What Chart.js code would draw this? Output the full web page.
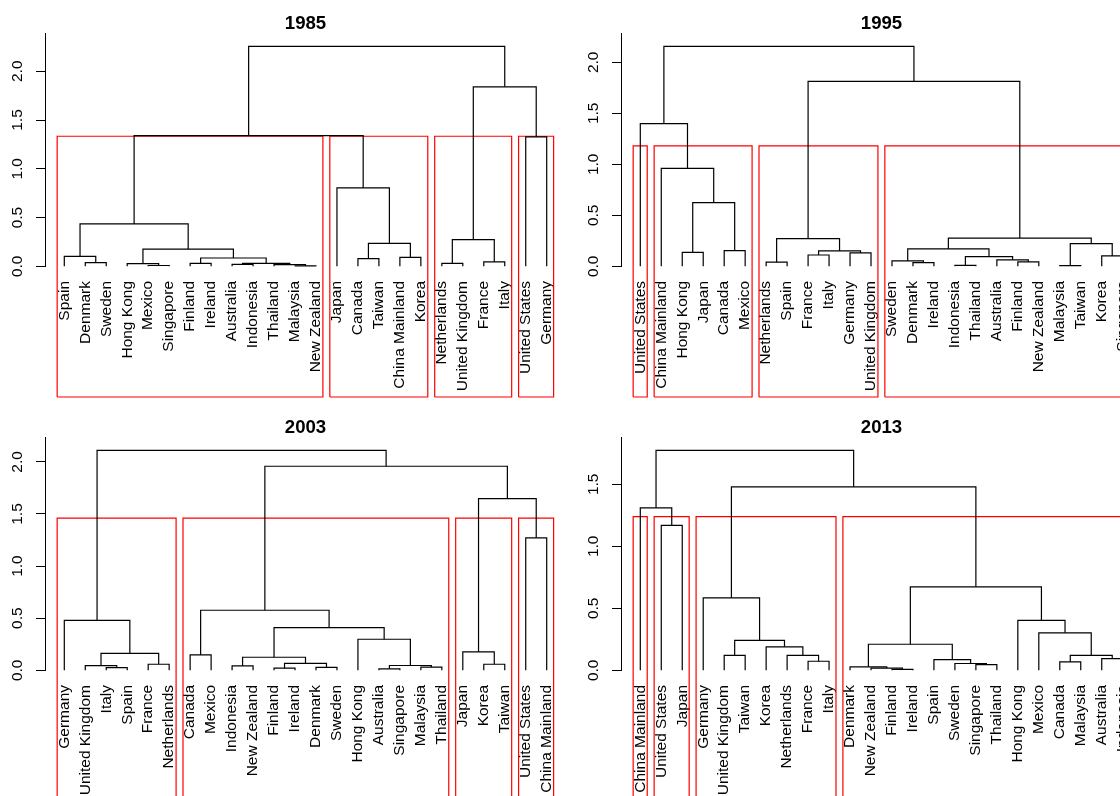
<!DOCTYPE html>
<html>
<head>
<meta charset="utf-8">
<title>Dendrograms 1985 - 2013</title>
<script src="https://cdn.jsdelivr.net/npm/chart.js"></script>
<style>
  html, body { margin: 0; padding: 0; background: #fff; overflow: hidden; width: 1120px; height: 796px; }
  canvas { position: absolute; }
</style>
</head>
<body>
<canvas id="c1985" width="576" height="404" style="left:0px;top:0px"></canvas>
<canvas id="c1995" width="576" height="404" style="left:576px;top:0px"></canvas>
<canvas id="c2003" width="576" height="404" style="left:0px;top:404px"></canvas>
<canvas id="c2013" width="576" height="404" style="left:576px;top:404px"></canvas>
<script>
// leaf order as printed under each tree
let leaves1985 = ["Spain", "Denmark", "Sweden", "Hong Kong", "Mexico", "Singapore", "Finland", "Ireland",
  "Australia", "Indonesia", "Thailand", "Malaysia", "New Zealand", "Japan", "Canada", "Taiwan",
  "China Mainland", "Korea", "Netherlands", "United Kingdom", "France", "Italy", "United States", "Germany"]
let leaves1995 = ["United States", "China Mainland", "Hong Kong", "Japan", "Canada", "Mexico", "Netherlands", "Spain",
  "France", "Italy", "Germany", "United Kingdom", "Sweden", "Denmark", "Ireland", "Indonesia",
  "Thailand", "Australia", "Finland", "New Zealand", "Malaysia", "Taiwan", "Korea", "Singapore"]
let leaves2003 = ["Germany", "United Kingdom", "Italy", "Spain", "France", "Netherlands", "Canada", "Mexico",
  "Indonesia", "New Zealand", "Finland", "Ireland", "Denmark", "Sweden", "Hong Kong", "Australia",
  "Singapore", "Malaysia", "Thailand", "Japan", "Korea", "Taiwan", "United States", "China Mainland"]
let leaves2013 = ["China Mainland", "United States", "Japan", "Germany", "United Kingdom", "Taiwan", "Korea", "Netherlands",
  "France", "Italy", "Denmark", "New Zealand", "Finland", "Ireland", "Spain", "Sweden",
  "Singapore", "Thailand", "Hong Kong", "Mexico", "Canada", "Malaysia", "Australia", "Indonesia"]

// merges: [left, right, height]; a string is a leaf, a number is an earlier merge row
let merges1985 = [
  ["Malaysia", "New Zealand", 0.004], ["Mexico", "Singapore", 0.008], ["Thailand", 0, 0.017],
  ["Australia", "Indonesia", 0.02], ["Hong Kong", 1, 0.027], ["Finland", "Ireland", 0.031],
  [3, 2, 0.031], ["Denmark", "Sweden", 0.038], ["Netherlands", "United Kingdom", 0.031],
  ["France", "Italy", 0.045], ["Canada", "Taiwan", 0.079], [5, 6, 0.085],
  ["China Mainland", "Korea", 0.092], ["Spain", 7, 0.102], [4, 11, 0.176],
  [10, 12, 0.236], [8, 9, 0.274], [13, 14, 0.435],
  ["Japan", 15, 0.804], ["United States", "Germany", 1.327], [17, 18, 1.34],
  [16, 19, 1.84], [20, 21, 2.256]
]
let merges1995 = [
  ["Malaysia", "Taiwan", 0.006], ["Indonesia", "Thailand", 0.01], ["Denmark", "Ireland", 0.036],
  ["Netherlands", "Spain", 0.04], ["Finland", "New Zealand", 0.043], ["Sweden", 2, 0.053],
  ["Australia", 4, 0.063], [1, 6, 0.095], ["Korea", "Singapore", 0.102],
  ["France", "Italy", 0.111], ["Germany", "United Kingdom", 0.131], ["Hong Kong", "Japan", 0.137],
  [9, 10, 0.151], ["Canada", "Mexico", 0.154], [5, 7, 0.17],
  [0, 8, 0.222], [3, 12, 0.272], [14, 15, 0.277],
  [11, 13, 0.625], ["China Mainland", 18, 0.961], ["United States", 19, 1.399],
  [16, 17, 1.814], [20, 21, 2.157]
]
let merges2003 = [
  ["Australia", "Singapore", 0.014], ["Finland", "Ireland", 0.02], ["Italy", "Spain", 0.026],
  ["Denmark", "Sweden", 0.029], ["Malaysia", "Thailand", 0.03], ["Indonesia", "New Zealand", 0.042],
  ["United Kingdom", 2, 0.045], [0, 4, 0.046], ["France", "Netherlands", 0.058],
  ["Korea", "Taiwan", 0.058], [1, 3, 0.067], [5, 10, 0.125],
  ["Canada", "Mexico", 0.148], [6, 8, 0.162], ["Japan", 9, 0.176],
  ["Hong Kong", 7, 0.298], [11, 15, 0.41], ["Germany", 13, 0.48],
  [12, 16, 0.576], ["United States", "China Mainland", 1.271], [14, 19, 1.648],
  [18, 20, 1.958], [17, 21, 2.111]
]
let merges2013 = [
  ["Finland", "Ireland", 0.008], ["New Zealand", 0, 0.017], ["Denmark", 1, 0.028],
  ["Singapore", "Thailand", 0.046], ["Sweden", 3, 0.055], ["Canada", "Malaysia", 0.068],
  ["France", "Italy", 0.073], ["Spain", 4, 0.086], ["Australia", "Indonesia", 0.094],
  ["United Kingdom", "Taiwan", 0.121], ["Netherlands", 6, 0.121], [5, 8, 0.121],
  ["Korea", 10, 0.189], [2, 7, 0.21], [9, 12, 0.242],
  ["Mexico", 11, 0.302], ["Hong Kong", 15, 0.403], ["Germany", 14, 0.584],
  [13, 16, 0.673], ["United States", "Japan", 1.169], ["China Mainland", 19, 1.31],
  [17, 18, 1.479], [20, 21, 1.774]
]

let yTicks = [0, 0.5, 1, 1.5, 2]
let clusterCount = 4

let fontFamily = "'Liberation Sans', Arial, Helvetica, sans-serif"

function drawTree(canvasId, title, leaves, merges) {
  let n = leaves.length
  let nodes = []

  function info(ref) {
    if (typeof ref === 'string') {
      let p = leaves.indexOf(ref) + 1
      return { x: p, h: 0, first: p, last: p, ref: ref }
    }
    return nodes[ref]
  }

  let datasets = []
  merges.forEach(function (m, i) {
    let l = info(m[0])
    let r = info(m[1])
    nodes.push({ x: (l.x + r.x) / 2, h: m[2], first: Math.min(l.first, r.first), last: Math.max(l.last, r.last), kids: [m[0], m[1]] })
    datasets.push({
      data: [{ x: l.x, y: l.h }, { x: l.x, y: m[2] }, { x: r.x, y: m[2] }, { x: r.x, y: r.h }],
      borderColor: '#000',
      borderWidth: 1.2
    })
  })

  let top = merges[merges.length - 1][2]
  // plot region: top merge 220px above zero, region ends 13.3px above it and 130.7px below zero
  let yMax = top * 233.3 / 220
  let rectBottom = -top * 130.7 / 220

  // cut for the rectangles, like rect.hclust
  let hs = merges.map(m => m[2]).sort((a, b) => b - a)
  let cut = (hs[clusterCount - 2] + hs[clusterCount - 1]) / 2
  let clusters = []
  function walk(ref) {
    let nd = info(ref)
    if (nd.h > cut) { walk(nd.kids[0]); walk(nd.kids[1]) }
    else clusters.push(nd)
  }
  walk(merges.length - 1)
  clusters.forEach(function (c) {
    let x1 = c.first - 0.34
    let x2 = c.last + 0.33
    datasets.push({
      data: [{ x: x1, y: rectBottom }, { x: x1, y: cut }, { x: x2, y: cut }, { x: x2, y: rectBottom }, { x: x1, y: rectBottom }],
      borderColor: '#ff0000',
      borderWidth: 1.2
    })
  })

  datasets.forEach(function (d) {
    d.showLine = true
    d.pointRadius = 0
    d.fill = false
    d.tension = 0
    d.clip = false
  })

  new Chart(document.getElementById(canvasId), {
    type: 'scatter',
    data: { datasets: datasets },
    options: {
      responsive: false,
      animation: false,
      events: [],
      layout: { padding: { left: 0, right: 10, top: 0, bottom: 0 } },
      plugins: {
        legend: { display: false },
        tooltip: { enabled: false },
        title: {
          display: true,
          text: title,
          fullSize: false,
          color: '#000',
          font: { family: fontFamily, size: 18.6, weight: 'bold', lineHeight: 1 },
          padding: { top: 14.4, bottom: 0 }
        }
      },
      scales: {
        x: {
          type: 'linear',
          min: 0.08,
          max: n + 0.92,
          grid: { display: false, drawTicks: false },
          border: { display: false },
          afterBuildTicks: function (s) { s.ticks = leaves.map((_, i) => ({ value: i + 1 })) },
          afterFit: function (s) {
            s.height = 137.7
            s.paddingLeft = 0
            s.paddingRight = 0
          },
          ticks: {
            autoSkip: false,
            minRotation: 90,
            maxRotation: 90,
            padding: 14.7,
            color: '#000',
            font: { family: fontFamily, size: 15.5 },
            callback: function (v) { return leaves[Math.round(v) - 1] }
          }
        },
        y: {
          type: 'linear',
          min: 0,
          max: yMax,
          afterBuildTicks: function (s) { s.ticks = yTicks.filter(v => v <= yMax).map(v => ({ value: v })) },
          afterFit: function (s) {
            s.width = 45
            s.paddingTop = 0
            s.paddingBottom = 0
          },
          grid: { drawOnChartArea: false, drawTicks: true, tickLength: 9, color: '#000', lineWidth: 1 },
          border: { display: true, color: '#000', width: 1 },
          ticks: {
            minRotation: 90,
            maxRotation: 90,
            crossAlign: 'center',
            padding: 7.75,
            color: '#000',
            font: { family: fontFamily, size: 15.5 },
            callback: function (v) { return v.toFixed(1) }
          }
        }
      }
    }
  })
}

drawTree('c1985', '1985', leaves1985, merges1985)
drawTree('c1995', '1995', leaves1995, merges1995)
drawTree('c2003', '2003', leaves2003, merges2003)
drawTree('c2013', '2013', leaves2013, merges2013)
</script>
</body>
</html>
